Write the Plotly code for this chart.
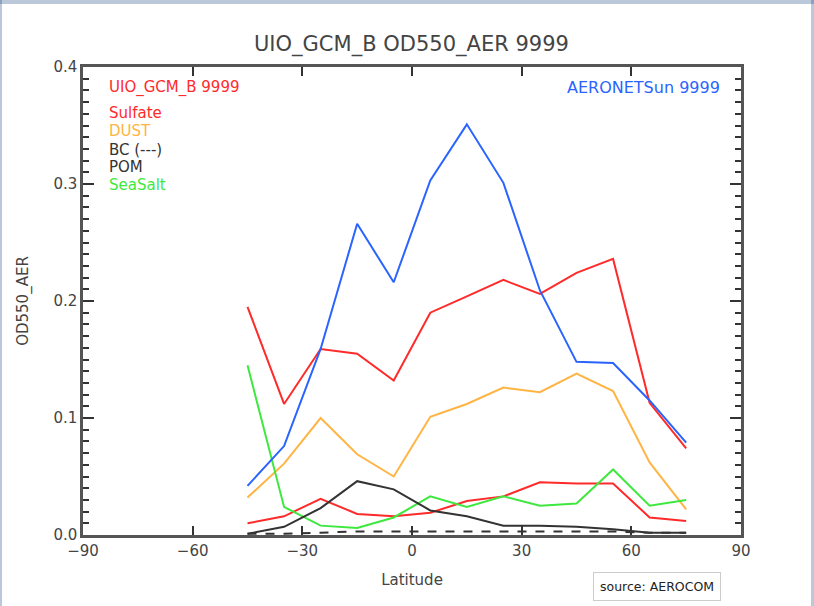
import plotly.graph_objects as go

lat = [-45, -35, -25, -15, -5, 5, 15, 25, 35, 45, 55, 65, 75]
aeronet = [0.042, 0.076, 0.159, 0.266, 0.216, 0.303, 0.351, 0.301, 0.209, 0.148, 0.147, 0.115, 0.079]
model_total = [0.195, 0.112, 0.159, 0.155, 0.132, 0.190, 0.204, 0.218, 0.206, 0.224, 0.236, 0.113, 0.074]
dust = [0.032, 0.061, 0.100, 0.069, 0.050, 0.101, 0.112, 0.126, 0.122, 0.138, 0.123, 0.062, 0.022]
sulfate = [0.010, 0.016, 0.031, 0.018, 0.016, 0.019, 0.029, 0.033, 0.045, 0.044, 0.044, 0.015, 0.012]
seasalt = [0.145, 0.024, 0.008, 0.006, 0.015, 0.033, 0.024, 0.033, 0.025, 0.027, 0.056, 0.025, 0.030]
pom = [0.001, 0.007, 0.023, 0.046, 0.039, 0.021, 0.016, 0.008, 0.008, 0.007, 0.005, 0.002, 0.002]
bc = [0.001, 0.001, 0.002, 0.003, 0.003, 0.003, 0.003, 0.003, 0.003, 0.003, 0.003, 0.002, 0.002]

RED = "#ff2a2a"
BLUE = "#2a64ff"
ORANGE = "#ffb444"
GREEN = "#3ee83e"
BLACK = "#333333"

fig = go.Figure()
series = [
    ("DUST", dust, ORANGE, "solid"),
    ("Sulfate", sulfate, RED, "solid"),
    ("SeaSalt", seasalt, GREEN, "solid"),
    ("POM", pom, BLACK, "solid"),
    ("BC", bc, BLACK, "dash"),
    ("UIO_GCM_B 9999", model_total, RED, "solid"),
    ("AERONETSun 9999", aeronet, BLUE, "solid"),
]
for name, vals, col, dash in series:
    fig.add_trace(go.Scatter(x=lat, y=vals, mode="lines", name=name,
                             line=dict(color=col, width=2, dash=dash)))

FONT = "DejaVu Sans"
TXT = "#444444"
TICK = "#333333"
fig.update_layout(
    template="simple_white",
    width=814, height=606,
    margin=dict(l=83, r=73, t=67, b=71),
    paper_bgcolor="white", plot_bgcolor="white",
    showlegend=False,
    font=dict(family=FONT, color=TXT, size=15),
)
fig.update_xaxes(
    range=[-90, 90], tickmode="linear", tick0=-90, dtick=30,
    ticks="inside", ticklen=9, tickwidth=2,
    tickcolor=TICK, showline=True, linecolor="#555555", linewidth=2.5,
    mirror="ticks", showgrid=False, zeroline=False,
    tickfont=dict(size=15, color=TXT, family=FONT),
    title=dict(text="Latitude", font=dict(size=15, color=TXT, family=FONT), standoff=16),
)
fig.update_yaxes(
    range=[0, 0.4], tickmode="linear", tick0=0, dtick=0.1, tickformat=".1f",
    ticks="inside", ticklen=11,
    tickwidth=2, tickcolor=TICK, showline=True, linecolor="#555555",
    linewidth=2.5, mirror="ticks", showgrid=False, zeroline=False,
    minor=dict(dtick=0.01, ticks="inside", ticklen=6, tickwidth=2, tickcolor=TICK, showgrid=False),
    tickfont=dict(size=15, color=TXT, family=FONT),
    title=dict(text="OD550_AER", font=dict(size=15, color=TXT, family=FONT), standoff=22),
)

def px2paper(xp, yp):
    return (xp - 83) / 658.0, 1 - (yp - 67) / 468.0

ann = []
tx, ty = px2paper(411, 45)
ann.append(dict(text="UIO_GCM_B OD550_AER 9999", x=tx, y=ty, xref="paper", yref="paper",
                showarrow=False, xanchor="center", yanchor="middle",
                font=dict(size=21, color=TXT, family=FONT)))
labels = [("UIO_GCM_B 9999", 88, RED), ("Sulfate", 113, RED), ("DUST", 131, ORANGE),
          ("BC (---)", 150, BLACK), ("POM", 167, BLACK), ("SeaSalt", 185, GREEN)]
for t, yy, c in labels:
    lx, ly = px2paper(107, yy)
    ann.append(dict(text=t, x=lx, y=ly, xref="paper", yref="paper", showarrow=False,
                    xanchor="left", yanchor="middle", font=dict(size=15, color=c, family=FONT)))
rx, ry = px2paper(722, 88)
ann.append(dict(text="AERONETSun 9999", x=rx, y=ry, xref="paper", yref="paper", showarrow=False,
                xanchor="right", yanchor="middle", font=dict(size=16, color=BLUE, family=FONT)))
sx, sy = px2paper(657, 586)
ann.append(dict(text="source: AEROCOM", x=sx, y=sy, xref="paper", yref="paper", showarrow=False,
                xanchor="center", yanchor="middle", bordercolor="#cccccc", borderwidth=1,
                borderpad=6, bgcolor="white", font=dict(size=12.5, color="#222222", family=FONT)))
fig.update_layout(annotations=ann)

# outer dark-blue frame of the original image
FR = "#1f4a80"
x0, _ = px2paper(0, 0)
x1, _ = px2paper(814, 0)
_, ytop = px2paper(0, 0)
_, ybot = px2paper(0, 606)
_, yb4 = px2paper(0, 4)
xl2, _ = px2paper(2, 0)
xr2, _ = px2paper(811, 0)
shapes = [
    dict(type="rect", xref="paper", yref="paper", x0=x0, x1=x1, y0=yb4, y1=ytop, fillcolor=FR, line=dict(width=0), layer="above"),
    dict(type="rect", xref="paper", yref="paper", x0=x0, x1=xl2, y0=ybot, y1=ytop, fillcolor=FR, line=dict(width=0), layer="above"),
    dict(type="rect", xref="paper", yref="paper", x0=xr2, x1=x1, y0=ybot, y1=ytop, fillcolor=FR, line=dict(width=0), layer="above"),
]
fig.update_layout(shapes=shapes)

fig.write_html("out.html")
